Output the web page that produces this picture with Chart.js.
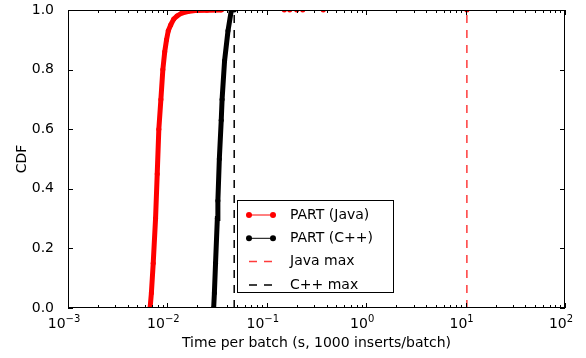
<!DOCTYPE html>
<html>
<head>
<meta charset="utf-8">
<script src="https://cdn.jsdelivr.net/npm/chart.js@4.4.1/dist/chart.umd.min.js"></script>
<style>
  html, body { margin: 0; padding: 0; background: #fff; }
  #wrap { width: 586px; height: 358px; position: relative; }
</style>
</head>
<body>
<div id="wrap"><canvas id="chart"></canvas></div>
<script>
// CDF of time per batch
const javaTimes = [0.0067, 0.0069, 0.0072, 0.0076, 0.0079, 0.0082, 0.0086, 0.0090, 0.0094, 0.0098, 0.0102, 0.0108, 0.0116, 0.0125, 0.0140, 0.016, 0.019, 0.025, 0.035, 0.15, 0.17, 0.20, 0.23, 0.37, 10.3];
const javaCdf   = [0.0, 0.05, 0.15, 0.3, 0.45, 0.6, 0.7, 0.8, 0.86, 0.9, 0.93, 0.95, 0.97, 0.98, 0.99, 0.995, 0.998, 0.999, 1.0, 1.0, 1.0, 1.0, 1.0, 1.0, 1.0];
const cppTimes  = [0.0292, 0.0297, 0.0305, 0.0318, 0.0322, 0.0333, 0.0348, 0.0355, 0.0376, 0.0407, 0.0440, 0.047];
const cppCdf    = [0.0, 0.05, 0.15, 0.3, 0.36, 0.5, 0.63, 0.7, 0.83, 0.93, 1.0, 1.0];
const javaMax = 10.3;
const cppMax = 0.047;

const xTicks = [0.001, 0.01, 0.1, 1, 10, 100];
const xTickExps = ["−3", "−2", "−1", "0", "1", "2"];
const yTicks = [0.0, 0.2, 0.4, 0.6, 0.8, 1.0];

const FONT = "'DejaVu Sans', sans-serif";

const toPoints = (xs, ys) => xs.map((v, i) => ({ x: v, y: ys[i] }));

// thin line where the curve runs along the top (hidden under the frame)
const flatTop = ctx => (ctx.p0.parsed.y >= 1 && ctx.p1.parsed.y >= 1) ? 1 : 5;

const frameAndLegend = {
  id: "frameAndLegend",
  afterDatasetsDraw(chart) {
    const { ctx, chartArea: a, scales: { x, y } } = chart;
    ctx.save();
    ctx.strokeStyle = "#000";
    ctx.lineWidth = 1;
    ctx.beginPath();
    for (let e = -3; e <= 2; e++) {
      for (let m = 1; m <= 9; m++) {
        const v = m * Math.pow(10, e);
        if (v > 100.0001) break;
        const px = Math.round(x.getPixelForValue(v)) + 0.5;
        const len = m === 1 ? 5 : 3;
        ctx.moveTo(px, a.bottom); ctx.lineTo(px, a.bottom - len);
        ctx.moveTo(px, a.top); ctx.lineTo(px, a.top + len);
      }
    }
    yTicks.forEach(v => {
      const py = Math.round(y.getPixelForValue(v)) + 0.5;
      ctx.moveTo(a.left, py); ctx.lineTo(a.left + 5, py);
      ctx.moveTo(a.right, py); ctx.lineTo(a.right - 5, py);
    });
    ctx.stroke();
    ctx.strokeRect(Math.round(a.left) + 0.5, Math.round(a.top) + 0.5,
                   Math.round(a.width) - 1, Math.round(a.height) - 1);

    // x tick labels as 10 with a raised exponent
    ctx.fillStyle = "#000";
    ctx.textBaseline = "alphabetic";
    ctx.textAlign = "left";
    xTicks.forEach((v, i) => {
      ctx.font = "14px " + FONT;
      const wBase = ctx.measureText("10").width;
      ctx.font = "10px " + FONT;
      const wExp = ctx.measureText(xTickExps[i]).width;
      const left = x.getPixelForValue(v) - (wBase + wExp) / 2 - 4;
      const base = a.bottom + 20;
      ctx.font = "14px " + FONT;
      ctx.fillText("10", left, base);
      ctx.font = "10px " + FONT;
      ctx.fillText(xTickExps[i], left + wBase, base - 6);
    });
    ctx.restore();
  },
  afterDraw(chart) {
    const { ctx } = chart;
    const bx = 237.5, by = 200.5, bw = 156, bh = 92;
    ctx.save();
    ctx.fillStyle = "#fff";
    ctx.fillRect(bx, by, bw, bh);
    ctx.strokeStyle = "#000";
    ctx.lineWidth = 1;
    ctx.strokeRect(bx, by, bw, bh);
    ctx.font = "14px " + FONT;
    ctx.textBaseline = "middle";
    ctx.fillStyle = "#000";
    chart.data.datasets.forEach((ds, i) => {
      const ly = 215 + i * 23.3;
      ctx.strokeStyle = ds.borderColor;
      ctx.lineWidth = ds.borderDash ? 1.5 : 1;
      ctx.setLineDash(ds.borderDash || []);
      ctx.beginPath();
      ctx.moveTo(249, ly); ctx.lineTo(273, ly);
      ctx.stroke();
      ctx.setLineDash([]);
      if (!ds.borderDash) {
        ctx.fillStyle = ds.borderColor;
        [249, 273].forEach(cx => {
          ctx.beginPath(); ctx.arc(cx, ly, 3, 0, Math.PI * 2); ctx.fill();
        });
      }
      ctx.fillStyle = "#000";
      ctx.fillText(ds.label, 290, ly);
    });
    ctx.restore();
  }
};

new Chart(document.getElementById("chart"), {
  type: "line",
  data: {
    datasets: [
      {
        label: "PART (Java)",
        data: toPoints(javaTimes, javaCdf),
        borderColor: "#ff0000",
        backgroundColor: "#ff0000",
        pointRadius: 2.5,
        pointBorderWidth: 0,
        segment: { borderWidth: flatTop },
        borderWidth: 5,
        clip: 0
      },
      {
        label: "PART (C++)",
        data: toPoints(cppTimes, cppCdf),
        borderColor: "#000000",
        backgroundColor: "#000000",
        pointRadius: 2.5,
        pointBorderWidth: 0,
        segment: { borderWidth: flatTop },
        borderWidth: 5,
        clip: 0
      },
      {
        label: "Java max",
        data: toPoints([javaMax, javaMax], [0, 1]),
        borderColor: "#ff3b3b",
        borderWidth: 1.5,
        borderDash: [8, 7],
        pointRadius: 0,
        clip: 0
      },
      {
        label: "C++ max",
        data: toPoints([cppMax, cppMax], [0, 1]),
        borderColor: "#000000",
        borderWidth: 1.5,
        borderDash: [8, 7],
        pointRadius: 0,
        clip: 0
      }
    ]
  },
  options: {
    responsive: true,
    maintainAspectRatio: false,
    animation: false,
    layout: { padding: { top: 10, right: 21, left: 0, bottom: 0 } },
    plugins: {
      legend: { display: false },
      tooltip: { enabled: false }
    },
    scales: {
      x: {
        type: "logarithmic",
        min: 0.001,
        max: 100,
        afterBuildTicks: scale => { scale.ticks = xTicks.map(v => ({ value: v })); },
        afterFit: scale => {
          scale.height = 50;
          scale.paddingLeft = 0;
          scale.paddingRight = 0;
        },
        ticks: { display: false },
        grid: { display: false },
        border: { display: false },
        title: {
          display: true,
          text: "Time per batch (s, 1000 inserts/batch)",
          color: "#000",
          font: { family: FONT, size: 14 },
          padding: { top: 2, bottom: 6 }
        }
      },
      y: {
        min: 0,
        max: 1,
        afterBuildTicks: scale => { scale.ticks = yTicks.map(v => ({ value: v })); },
        afterFit: scale => {
          scale.width = 68;
          scale.paddingTop = 0;
          scale.paddingBottom = 0;
        },
        ticks: {
          padding: 6,
          color: "#000",
          font: { family: FONT, size: 14 },
          callback: v => v.toFixed(1)
        },
        grid: { display: false },
        border: { display: false },
        title: {
          display: true,
          text: "CDF",
          color: "#000",
          font: { family: FONT, size: 14 },
          padding: { top: 14, bottom: 4 }
        }
      }
    }
  },
  plugins: [frameAndLegend]
});
</script>
</body>
</html>
